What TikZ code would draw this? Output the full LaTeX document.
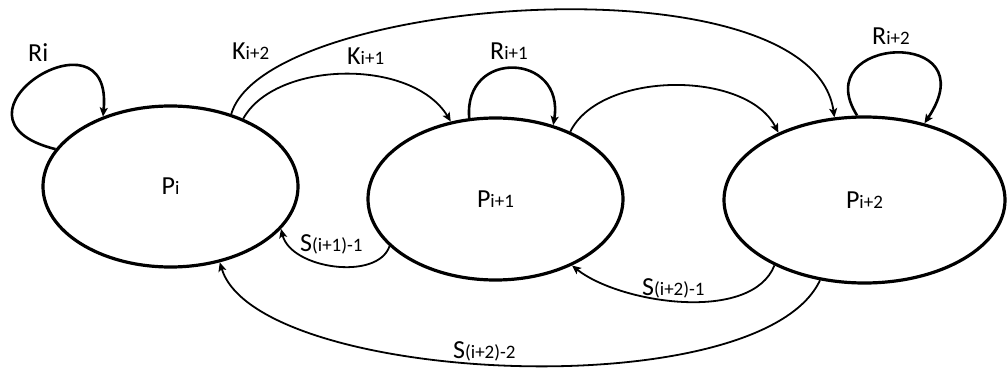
\documentclass[tikz,border=0pt]{standalone}
\usepackage{fontspec}
\setmainfont{Carlito}
\usetikzlibrary{shapes.geometric,arrows.meta}
\newcommand{\lo}[1]{{\fontsize{19}{19}\selectfont #1}}
\begin{document}
\begin{tikzpicture}[x=1pt,y=-1pt,
  state/.style={draw, ellipse, line width=3.2pt, inner sep=0pt, font=\fontsize{26}{26}\selectfont},
  lbl/.style={anchor=base west, inner sep=0pt, font=\fontsize{26}{26}\selectfont},
  edge/.style={line width=1.8pt, -{Stealth[length=9pt,width=8pt,inset=2pt]}},
  loopedge/.style={edge, line width=2.6pt}]
\useasboundingbox (0,0) rectangle (1007,374);

\node[state, minimum width=255pt, minimum height=161pt] (P0) at (170.5,186.5) {P\lo{i}};
\node[state, minimum width=255pt, minimum height=162pt] (P1) at (495.5,199) {P\lo{i+1}};
\node[state, minimum width=281pt, minimum height=166pt] (P2) at (864.5,200) {P\lo{i+2}};

% self loops
\draw[loopedge] (P0.162.5) .. controls +(-125,-31) and +(11.5,-115) .. (P0.134.2);
\draw[loopedge] (P1.108.5) .. controls +(-6,-70) and +(12,-72) .. (P1.52.5);
\draw[loopedge] (P2.95.7) .. controls +(-51,-80) and +(65,-97) .. (P2.52.2);

% forward
\draw[edge] (P0.50.5) .. controls +(34,-118) and +(-23,-162) .. (P2.110.8);
\draw[edge] (P0.43.4) .. controls +(32,-58) and +(-39,-64) .. (P1.120.2);
\draw[edge] (P1.42.4) .. controls +(30,-61) and +(-32,-63) .. (P2.142.6);

% backward
\draw[edge] (P1.204.5) .. controls +(-12,35) and +(10,40) .. (P0.-21.7);
\draw[edge] (P2.216.8) .. controls +(-23,58) and +(48,38) .. (P1.-41.6);
\draw[edge] (P2.241.5) .. controls +(-60,128) and +(37,122) .. (P0.-57.2);

% labels
\node[lbl] (lRi) at (28,62) {Ri};
\node[lbl] (lK2) at (232,60) {K\lo{i+2}};
\node[lbl] (lK1) at (347,65) {K\lo{i+1}};
\node[lbl] (lR1) at (490,60) {R\lo{i+1}};
\node[lbl] (lR2) at (872,45) {R\lo{i+2}};
\node[lbl] (lS11) at (300,252) {S\lo{(i+1)-1}};
\node[lbl] (lS21) at (642,295) {S\lo{(i+2)-1}};
\node[lbl] (lS22) at (453,358) {S\lo{(i+2)-2}};
\end{tikzpicture}
\end{document}
